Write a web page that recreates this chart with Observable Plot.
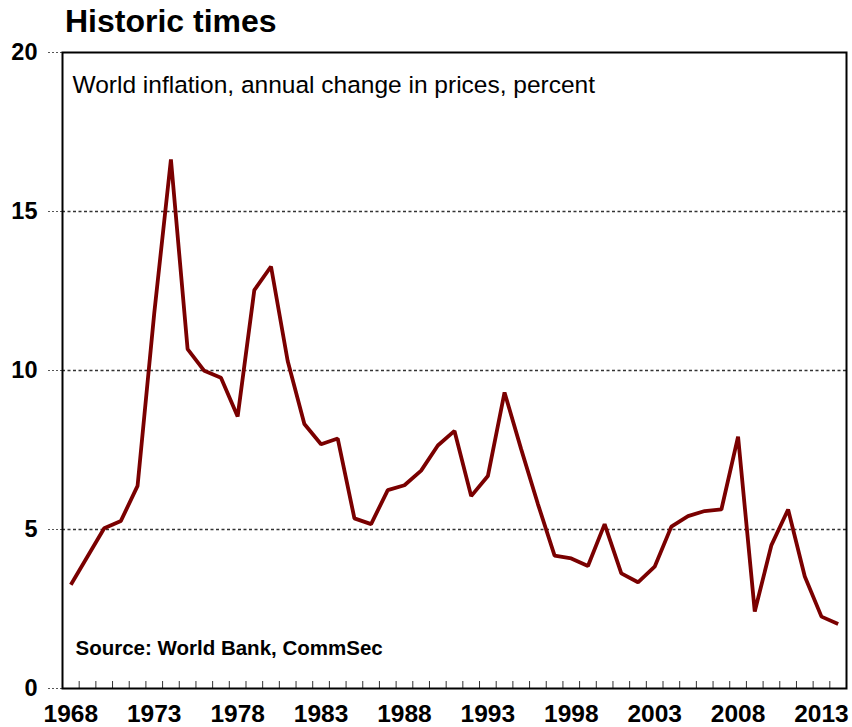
<!DOCTYPE html>
<html>
<head>
<meta charset="utf-8">
<script src="https://cdn.jsdelivr.net/npm/d3@7"></script>
<script src="https://cdn.jsdelivr.net/npm/@observablehq/plot@0.6"></script>
<style>
  html, body { margin: 0; padding: 0; background: #fff; }
  body { width: 852px; font-family: "Liberation Sans", Arial, sans-serif; }
  #title { height: 42px; line-height: 42px; padding-left: 65px; font-size: 32px; font-weight: bold; color: #000; white-space: nowrap; }
  #chart svg { display: block; }
</style>
</head>
<body>
<div id="title"></div>
<div id="chart"></div>
<script>
const titleText = "Historic times";
const subtitleText = "World inflation, annual change in prices, percent";
const sourceText = "Source: World Bank, CommSec";

const years = [1968,1969,1970,1971,1972,1973,1974,1975,1976,1977,1978,1979,1980,1981,1982,1983,1984,1985,1986,1987,1988,1989,1990,1991,1992,1993,1994,1995,1996,1997,1998,1999,2000,2001,2002,2003,2004,2005,2006,2007,2008,2009,2010,2011,2012,2013,2014];
const inflation = [3.26,4.15,5.04,5.27,6.37,11.8,16.64,10.67,9.99,9.77,8.55,12.53,13.27,10.3,8.32,7.68,7.86,5.35,5.17,6.24,6.39,6.85,7.64,8.10,6.05,6.68,9.31,7.52,5.8,4.18,4.09,3.85,5.17,3.62,3.34,3.83,5.09,5.42,5.58,5.63,7.92,2.42,4.51,5.63,3.52,2.26,2.03];
const xLabelYears = [1968,1973,1978,1983,1988,1993,1998,2003,2008,2013];
const yTicks = [0,5,10,15,20];
const gridValues = [5,10,15];

const data = years.map((year, i) => ({year, value: inflation[i]}));
const yearBoundaries = d3.range(years[0] + 0.5, years[years.length - 1] + 1, 1);

document.getElementById("title").textContent = titleText;

const fontFamily = '"Liberation Sans", Arial, sans-serif';

const chart = Plot.plot({
  width: 852,
  height: 685,
  marginLeft: 62,
  marginRight: 6,
  marginTop: 10,
  marginBottom: 39,
  style: {fontFamily, background: "#fff", color: "#000", overflow: "visible"},
  x: {type: "linear", domain: [years[0] - 0.5, years[years.length - 1] + 0.5]},
  y: {type: "linear", domain: [0, 20]},
  marks: [
    Plot.gridY(gridValues, {stroke: "#333", strokeOpacity: 1, strokeWidth: 1.3, strokeDasharray: "3,2.5"}),
    Plot.axisY(yTicks, {tickSize: 16, tickPadding: 9, stroke: "#555", strokeDasharray: "2,2", fontSize: 23.5, fontWeight: "bold", fill: "#000", label: null}),
    Plot.axisX(xLabelYears, {tickSize: 0, tickPadding: 16, fontSize: 24.5, fontWeight: "bold", fill: "#000", label: null, tickFormat: d => String(d)}),
    Plot.axisX(yearBoundaries, {anchor: "bottom", tickSize: -7, stroke: "#333", tickFormat: () => "", label: null}),
    Plot.line(data, {x: "year", y: "value", stroke: "#7a0000", strokeWidth: 3.8, strokeLinejoin: "miter", strokeLinecap: "butt"}),
    Plot.text([subtitleText], {frameAnchor: "top-left", text: d => d, dx: 10, dy: 33, lineAnchor: "middle", fontSize: 24.5, fill: "#000"}),
    Plot.text([sourceText], {frameAnchor: "bottom-left", text: d => d, dx: 13, dy: -40, lineAnchor: "middle", fontSize: 20.5, fontWeight: "bold", fill: "#000"}),
    Plot.frame({stroke: "#000", strokeWidth: 2})
  ]
});
document.getElementById("chart").appendChild(chart);
</script>
</body>
</html>
